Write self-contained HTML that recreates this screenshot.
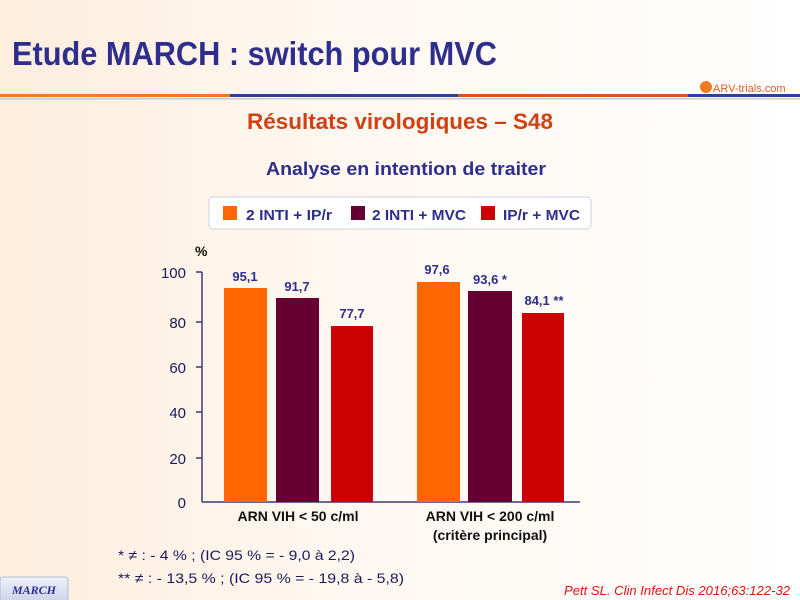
<!DOCTYPE html>
<html><head><meta charset="utf-8"><style>
html,body{margin:0;padding:0}
body{width:800px;height:600px;overflow:hidden;background:#fef6ee;font-family:"Liberation Sans",sans-serif}
</style></head><body>
<svg width="800" height="600" xmlns="http://www.w3.org/2000/svg" style="display:block">
<defs>
<linearGradient id="bg" x1="0" y1="0" x2="1" y2="0">
<stop offset="0" stop-color="#fdeedd"/><stop offset="0.4" stop-color="#fef7f0"/><stop offset="1" stop-color="#ffffff"/>
</linearGradient>
<linearGradient id="badge" x1="0" y1="0" x2="0" y2="1">
<stop offset="0" stop-color="#eef0fa"/><stop offset="1" stop-color="#cfd3ea"/>
</linearGradient>
</defs>
<rect width="800" height="600" fill="url(#bg)"/>
<text x="12" y="65" font-family="Liberation Sans, sans-serif" font-size="33" font-weight="bold" fill="#2e2e8c" textLength="485" lengthAdjust="spacingAndGlyphs">Etude MARCH : switch pour MVC</text>
<rect x="0" y="94" width="230" height="3" fill="#f07a20"/>
<rect x="230" y="94" width="228" height="3" fill="#2e3f9a"/>
<rect x="458" y="94" width="230" height="3" fill="#e05020"/>
<rect x="688" y="94" width="112" height="3" fill="#2e3f9a"/>
<rect x="0" y="98" width="800" height="1.5" fill="#c8c8d0"/>
<rect x="698" y="80" width="90" height="14" fill="#fff"/>
<circle cx="706" cy="87" r="6" fill="#f07a20"/>
<text x="713" y="92" font-size="11" fill="#e05a20">ARV-trials.com</text>
<text x="247" y="129" font-size="22" font-weight="bold" fill="#d04010" textLength="306" lengthAdjust="spacingAndGlyphs">Résultats virologiques – S48</text>
<text x="266" y="175" font-size="18" font-weight="bold" fill="#2e2e8c" textLength="280" lengthAdjust="spacingAndGlyphs">Analyse en intention de traiter</text>
<rect x="209" y="197" width="382" height="32" rx="4" fill="#fff" stroke="#d0d0e0"/>
<rect x="223" y="206" width="14" height="14" fill="#ff6600"/>
<text x="246" y="220" font-size="15" font-weight="bold" fill="#2e2e8c" textLength="86" lengthAdjust="spacingAndGlyphs">2 INTI + IP/r</text>
<rect x="351" y="206" width="14" height="14" fill="#660033"/>
<text x="372" y="220" font-size="15" font-weight="bold" fill="#2e2e8c" textLength="94" lengthAdjust="spacingAndGlyphs">2 INTI + MVC</text>
<rect x="481" y="206" width="14" height="14" fill="#cc0000"/>
<text x="503" y="220" font-size="15" font-weight="bold" fill="#2e2e8c" textLength="77" lengthAdjust="spacingAndGlyphs">IP/r + MVC</text>
<text x="195" y="256" font-size="14" font-weight="bold" fill="#111">%</text>
<g font-size="15" fill="#1a1a5a" text-anchor="end">
<text x="186" y="278">100</text><text x="186" y="328">80</text><text x="186" y="373">60</text>
<text x="186" y="418">40</text><text x="186" y="464">20</text><text x="186" y="508">0</text>
</g>
<g stroke="#3a3a7a" stroke-width="1.5">
<line x1="202" y1="272" x2="202" y2="502"/>
<line x1="202" y1="502" x2="580" y2="502"/>
<line x1="196" y1="272" x2="202" y2="272"/><line x1="196" y1="322" x2="202" y2="322"/>
<line x1="196" y1="367" x2="202" y2="367"/><line x1="196" y1="412" x2="202" y2="412"/>
<line x1="196" y1="458" x2="202" y2="458"/>
</g>
<rect x="224" y="288" width="43" height="214" fill="#ff6600"/>
<rect x="276" y="298" width="43" height="204" fill="#660033"/>
<rect x="331" y="326" width="42" height="176" fill="#cc0000"/>
<rect x="417" y="282" width="43" height="220" fill="#ff6600"/>
<rect x="468" y="291" width="44" height="211" fill="#660033"/>
<rect x="522" y="313" width="42" height="189" fill="#cc0000"/>
<g font-size="13" font-weight="bold" fill="#2e2e8c" text-anchor="middle">
<text x="245" y="281">95,1</text><text x="297" y="291">91,7</text><text x="352" y="318">77,7</text>
<text x="437" y="274">97,6</text><text x="490" y="284">93,6 *</text><text x="544" y="305">84,1 **</text>
</g>
<g font-size="14" font-weight="bold" fill="#111" text-anchor="middle">
<text x="298" y="521">ARN  VIH &lt; 50 c/ml</text>
<text x="490" y="521">ARN  VIH &lt; 200 c/ml</text>
<text x="490" y="540">(critère principal)</text>
</g>
<g font-size="14" fill="#1a1a5a">
<text x="118" y="560" textLength="237" lengthAdjust="spacingAndGlyphs">* ≠ : - 4 % ; (IC 95 % = - 9,0 à 2,2)</text>
<text x="118" y="583" textLength="286" lengthAdjust="spacingAndGlyphs">** ≠ : - 13,5 % ; (IC 95 % = - 19,8 à - 5,8)</text>
</g>
<rect x="0" y="577" width="68" height="24" rx="3" fill="url(#badge)" stroke="#b8bcd8"/>
<text x="34" y="594" text-anchor="middle" font-family="Liberation Serif, serif" font-style="italic" font-weight="bold" font-size="12" fill="#2e2e8c">MARCH</text>
<text x="790" y="595" text-anchor="end" font-style="italic" font-size="13" fill="#dd1111" textLength="226" lengthAdjust="spacingAndGlyphs">Pett SL. Clin Infect Dis 2016;63:122-32</text>
</svg>
</body></html>
